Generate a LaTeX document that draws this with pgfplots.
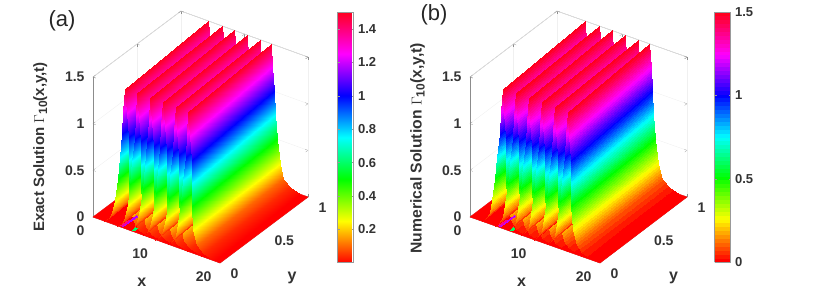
\documentclass[border=0pt]{standalone}
\usepackage{pgfplots}
\pgfplotsset{compat=1.18}
\usepackage{fontspec}
\setmainfont{Liberation Sans}
\definecolor{tk}{HTML}{333333}
\newcommand{\zl}[1]{#1 $\Gamma$\raisebox{-3pt}{\fontsize{12}{12}\selectfont 10}(x,y,t)}
\pgfplotsset{
 colormap={hsvm}{rgb255(0)=(255,0,0) rgb255(1)=(255,255,0) rgb255(2)=(0,255,0) rgb255(3)=(0,255,255) rgb255(4)=(0,0,255) rgb255(5)=(255,0,255) rgb255(6)=(255,0,30)},
 panel/.style={
  anchor=origin, clip=false,
  xmin=0,xmax=20,ymin=0,ymax=1,zmin=0,zmax=1.5,
  xtick={0,10,20},ytick={0,0.5,1},ztick={0,0.5,1,1.5},
  /pgf/number format/assume math mode=true,
  tick label style={font=\fontsize{14}{16}\selectfont\bfseries,text=tk},
  xlabel style={font=\fontsize{16}{18}\selectfont\bfseries,text=tk},
  ylabel style={font=\fontsize{16}{18}\selectfont\bfseries,text=tk},
  axis line style={gray!90},
  tick style={gray!90},
  major tick length=3pt,
  tick align=inside,
  grid=major, major grid style={black!6},
  point meta min=0,point meta max=1.5,
  xticklabel style={anchor=east,xshift=-5pt,yshift=-14pt},
  yticklabel style={anchor=west,xshift=7pt,yshift=-11pt},
  zticklabel style={anchor=east,xshift=-5pt},
 },
 rsurf/.style={surf,shader=interp,z buffer=none,mesh/rows=2,mesh/ordering=x varies},
 cbar/.style={anchor=north west,yshift=-1pt,width=16pt,height=250pt,
  yticklabel pos=right,
  tick align=inside,major tick length=2pt,axis line style={gray!80},tick style={gray!80},
  yticklabel style={font=\fontsize{13}{15}\selectfont\bfseries,text=tk,xshift=1pt},
  /pgf/number format/assume math mode=true},
}
\newcommand{\drawridges}{%
\addplot3[surf,shader=flat,z buffer=none,mesh/rows=2,draw=none] coordinates {(0,1,0)(20,1,0)(0,0,0)(20,0,0)};
\addplot3[rsurf] coordinates {
(1.1,1,0)(1.8,1,.05)(2.3,1,.12)(2.76,1,.27)(3.2,1,.5)(3.5,1,.75)(3.87,1,1)(4.05,1,1.25)(4.3,1,1.5)(4.5,1,1.25)(4.7,1,1)(4.9,1,.75)(5.2,1,.5)(5.7,1,.25)(6.2,1,.1)(7.3,1,.04)(8.8,1,0)
(1.8,0,0)(2.5,0,.05)(3,0,.12)(3.46,0,.27)(3.9,0,.5)(4.2,0,.75)(4.57,0,1)(4.75,0,1.25)(5,0,1.5)(5.3,0,1.25)(5.6,0,1)(5.6,0,.75)(5.6,0,.5)(5.8,0,.25)(6.4,0,.1)(7.3,0,.04)(9,0,0)};
\addplot3[rsurf] coordinates {
(3.3,1,0)(4,1,.05)(4.5,1,.12)(4.96,1,.27)(5.4,1,.5)(5.7,1,.75)(6.07,1,1)(6.25,1,1.25)(6.5,1,1.5)(6.7,1,1.25)(6.9,1,1)(7.1,1,.75)(7.4,1,.5)(7.9,1,.25)(8.4,1,.1)(9.5,1,.04)(11,1,0)
(3.8,0,0)(4.5,0,.05)(5,0,.12)(5.46,0,.27)(5.9,0,.5)(6.2,0,.75)(6.57,0,1)(6.75,0,1.25)(7,0,1.5)(7.3,0,1.25)(7.6,0,1)(7.6,0,.75)(7.6,0,.5)(7.8,0,.25)(8.4,0,.1)(9.3,0,.04)(11,0,0)};
\addplot3[rsurf] coordinates {
(5.2,1,0)(5.9,1,.05)(6.4,1,.12)(6.86,1,.27)(7.3,1,.5)(7.6,1,.75)(7.97,1,1)(8.15,1,1.25)(8.4,1,1.5)(8.6,1,1.25)(8.8,1,1)(9,1,.75)(9.3,1,.5)(9.8,1,.25)(10.3,1,.1)(11.4,1,.04)(12.9,1,0)
(5.8,0,0)(6.5,0,.05)(7,0,.12)(7.46,0,.27)(7.9,0,.5)(8.2,0,.75)(8.57,0,1)(8.75,0,1.25)(9,0,1.5)(9.3,0,1.25)(9.6,0,1)(9.6,0,.75)(9.6,0,.5)(9.8,0,.25)(10.4,0,.1)(11.3,0,.04)(13,0,0)};
\addplot3[rsurf] coordinates {
(7.2,1,0)(7.9,1,.05)(8.4,1,.12)(8.86,1,.27)(9.3,1,.5)(9.6,1,.75)(9.97,1,1)(10.15,1,1.25)(10.4,1,1.5)(10.6,1,1.25)(10.8,1,1)(11,1,.75)(11.3,1,.5)(11.8,1,.25)(12.3,1,.1)(13.4,1,.04)(14.9,1,0)
(7.8,0,0)(8.5,0,.05)(9,0,.12)(9.46,0,.27)(9.9,0,.5)(10.2,0,.75)(10.57,0,1)(10.75,0,1.25)(11,0,1.5)(11.3,0,1.25)(11.6,0,1)(11.6,0,.75)(11.6,0,.5)(11.8,0,.25)(12.4,0,.1)(13.3,0,.04)(15,0,0)};
\addplot3[rsurf] coordinates {
(9.2,1,0)(9.9,1,.05)(10.4,1,.12)(10.86,1,.27)(11.3,1,.5)(11.6,1,.75)(11.97,1,1)(12.15,1,1.25)(12.4,1,1.5)(12.6,1,1.25)(12.8,1,1)(13,1,.75)(13.3,1,.5)(13.8,1,.25)(14.3,1,.1)(15.4,1,.04)(16.9,1,0)
(9.8,0,0)(10.5,0,.05)(11,0,.12)(11.46,0,.27)(11.9,0,.5)(12.2,0,.75)(12.57,0,1)(12.75,0,1.25)(13,0,1.5)(13.3,0,1.25)(13.6,0,1)(13.6,0,.75)(13.6,0,.5)(13.8,0,.25)(14.4,0,.1)(15.3,0,.04)(17,0,0)};
\addplot3[rsurf] coordinates {
(11,1,0)(11.7,1,.05)(12.2,1,.12)(12.66,1,.27)(13.1,1,.5)(13.4,1,.75)(13.77,1,1)(13.95,1,1.25)(14.2,1,1.5)(14.4,1,1.25)(14.6,1,1)(14.8,1,.75)(15.1,1,.5)(15.6,1,.25)(16.1,1,.1)(17.2,1,.04)(18.7,1,0)
(11.8,0,0)(12.5,0,.05)(13,0,.12)(13.46,0,.27)(13.9,0,.5)(14.2,0,.75)(14.57,0,1)(14.75,0,1.25)(15,0,1.5)(15.3,0,1.25)(15.6,0,1)(15.6,0,.75)(15.6,0,.5)(15.8,0,.25)(16.4,0,.1)(17.3,0,.04)(19,0,0)};
% thin numerical streaks on the floor beside the front edge
\addplot3[surf,shader=interp,z buffer=none,mesh/rows=2,point meta=explicit] coordinates {
(4.3,.18,0) [1.18] (4.55,.18,0) [1.18]
(4.3,.015,0) [1.18] (4.55,.015,0) [1.18]};
\addplot3[surf,shader=interp,z buffer=none,mesh/rows=2,point meta=explicit] coordinates {
(4.05,.1,0) [1.38] (4.3,.1,0) [1.38]
(4.05,.015,0) [1.38] (4.3,.015,0) [1.38]};
\addplot3[surf,shader=interp,z buffer=none,mesh/rows=2,point meta=explicit] coordinates {
(5.95,.05,0) [0.6] (6.25,.05,0) [0.6]
(5.95,.01,0) [0.6] (6.25,.01,0) [0.6]};
}
\begin{document}
\begin{tikzpicture}[x=1pt,y=1pt]
\useasboundingbox (0,0) rectangle (829,298);
\begin{axis}[panel,at={(93pt,81pt)},
 x={(6.35pt,-2.3pt)},y={(88pt,66pt)},z={(0pt,93.3pt)},
 xlabel={x},ylabel={y},zlabel={\zl{Exact Solution}},
 xlabel style={at={(axis cs:14.4,-0.483,0)},anchor=center},
 ylabel style={at={(axis cs:29.8,0.113,0)},anchor=center},
 zlabel style={at={(axis cs:-15.5,0.519,0)},anchor=center,rotate=0,font=\fontsize{15}{17}\selectfont\bfseries,text=tk},
 colormap name=hsvm,
 colorbar,
 colorbar style={cbar,at={(parent axis.north east)},xshift=21pt,
  ymin=0.005,ymax=1.5,ytick={0.2,0.4,0.6,0.8,1,1.2,1.4}},
]
\drawridges
\end{axis}
\node[font=\fontsize{22}{24}\selectfont,text=black!85] at (62,277) {(a)};
\begin{axis}[panel,at={(470pt,81pt)},
 x={(6.5pt,-2.3pt)},y={(87pt,66pt)},z={(0pt,93.3pt)},
 xlabel={x},ylabel={y},zlabel={\zl{Numerical Solution}},
 xlabel style={at={(axis cs:14.4,-0.483,0)},anchor=center},
 ylabel style={at={(axis cs:29.8,0.113,0)},anchor=center},
 zlabel style={at={(axis cs:-15,0.519,0)},anchor=center,rotate=0,font=\fontsize{15.7}{17}\selectfont\bfseries,text=tk},
 colormap={hsvb}{samples of colormap=(64 of hsvm)},
 colormap access=piecewise constant,
 colorbar,
 colorbar style={cbar,at={(parent axis.north east)},xshift=19pt,
  ymin=0,ymax=1.5,ytick={0,0.5,1,1.5}},
]
\drawridges
\end{axis}
\node[font=\fontsize{22}{24}\selectfont,text=black!85] at (434,283) {(b)};
\end{tikzpicture}
\end{document}
